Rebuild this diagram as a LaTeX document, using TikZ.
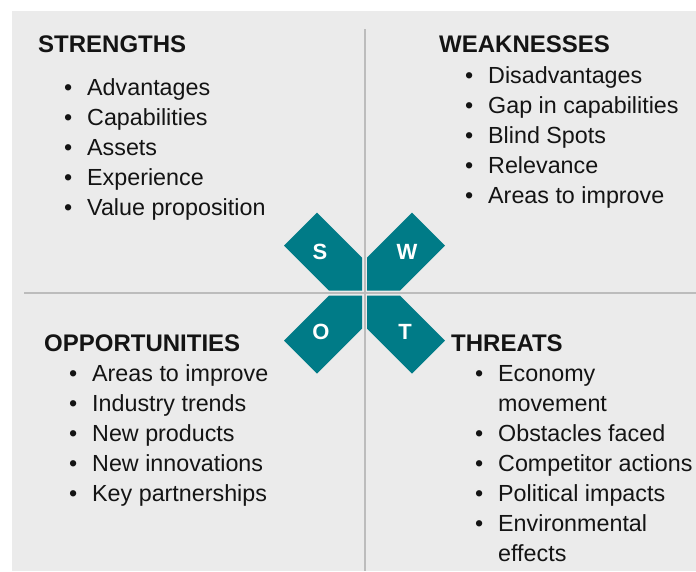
\documentclass[tikz,border=0pt]{standalone}
\usepackage{fontspec}
\setmainfont{Liberation Sans}
\usepackage{xcolor}
\usepackage{tikz}
\definecolor{swotteal}{RGB}{0, 123, 135}
\definecolor{panelgray}{RGB}{235, 235, 235}
\definecolor{rulegray}{RGB}{188, 188, 188}
\definecolor{inkblack}{RGB}{20, 20, 20}
\usetikzlibrary{positioning}
\newcommand{\bul}{\makebox[23pt][l]{\textbullet}}

\begin{document}
\begin{tikzpicture}[
    x=1pt, y=-1pt,
    heading/.style={anchor=base west, inner sep=0pt, text=inkblack, font=\fontsize{24}{28}\selectfont\bfseries},
    point/.style={anchor=base west, inner sep=0pt, text=inkblack, font=\fontsize{23.3}{27}\selectfont},
    letter/.style={text=white, inner sep=0pt, font=\fontsize{22}{26}\selectfont\bfseries},
    petal/.style={fill=swotteal},
    divider/.style={draw=rulegray, line width=2pt}
]
    \useasboundingbox (0, 0) rectangle (696, 571);
    \fill[panelgray] (12, 11) rectangle (696, 571);

    % quadrant dividers
    \draw[divider] (364.5, 29) -- (364.5, 571);
    \draw[divider] (24, 292.5) -- (696, 292.5);

    % centre petals
    \fill[petal] (362, 290.5) -- (362, 257.5) -- (317, 212.5) -- (284, 245.5) -- (329, 290.5) -- cycle;
    \fill[petal] (367, 290.5) -- (367, 257.5) -- (412, 212.5) -- (445, 245.5) -- (400, 290.5) -- cycle;
    \fill[petal] (362, 295.5) -- (362, 328.5) -- (317, 373.5) -- (284, 340.5) -- (329, 295.5) -- cycle;
    \fill[petal] (367, 295.5) -- (367, 328.5) -- (412, 373.5) -- (445, 340.5) -- (400, 295.5) -- cycle;
    \node[letter] (ls) at (320, 252) {S};
    \node[letter] (lw) at (407, 252) {W};
    \node[letter] (lo) at (321, 332) {O};
    \node[letter] (lt) at (405, 332) {T};

    % strengths
    \node[heading] (sh) at (38, 52) {STRENGTHS};
    \node[point] (s1) at (64, 95) {\bul Advantages};
    \node[point] (s2) at (64, 125) {\bul Capabilities};
    \node[point] (s3) at (64, 155) {\bul Assets};
    \node[point] (s4) at (64, 185) {\bul Experience};
    \node[point] (s5) at (64, 215) {\bul Value proposition};

    % weaknesses
    \node[heading] (wh) at (439, 52) {WEAKNESSES};
    \node[point] (w1) at (465, 83) {\bul Disadvantages};
    \node[point] (w2) at (465, 113) {\bul Gap in capabilities};
    \node[point] (w3) at (465, 143) {\bul Blind Spots};
    \node[point] (w4) at (465, 173) {\bul Relevance};
    \node[point] (w5) at (465, 203) {\bul Areas to improve};

    % opportunities
    \node[heading] (oh) at (44, 351) {OPPORTUNITIES};
    \node[point] (o1) at (69, 381) {\bul Areas to improve};
    \node[point] (o2) at (69, 411) {\bul Industry trends};
    \node[point] (o3) at (69, 441) {\bul New products};
    \node[point] (o4) at (69, 471) {\bul New innovations};
    \node[point] (o5) at (69, 501) {\bul Key partnerships};

    % threats
    \node[heading] (th) at (451, 351) {THREATS};
    \node[point] (t1) at (475, 381) {\bul Economy};
    \node[point] (t1b) at (498, 411) {movement};
    \node[point] (t2) at (475, 441) {\bul Obstacles faced};
    \node[point] (t3) at (475, 471) {\bul Competitor actions};
    \node[point] (t4) at (475, 501) {\bul Political impacts};
    \node[point] (t5) at (475, 531) {\bul Environmental};
    \node[point] (t5b) at (498, 561) {effects};
\end{tikzpicture}
\end{document}
